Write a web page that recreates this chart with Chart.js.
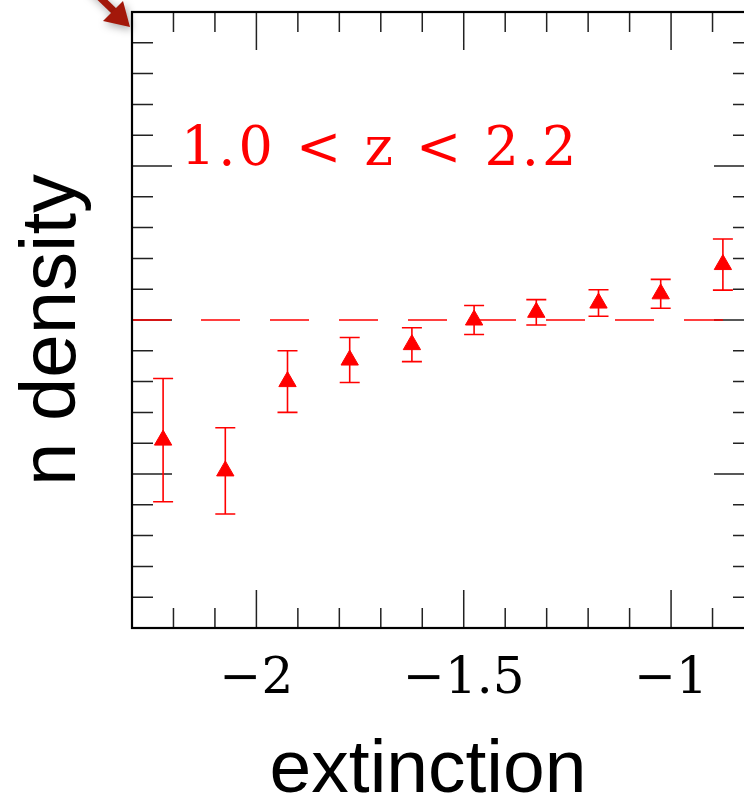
<!DOCTYPE html>
<html>
<head>
<meta charset="utf-8">
<title>n density vs extinction</title>
<script src="https://cdn.jsdelivr.net/npm/chart.js@4.4.1/dist/chart.umd.min.js"></script>
<style>
  html, body { margin: 0; padding: 0; background: #fff; }
  #wrap { width: 744px; height: 795px; overflow: hidden; position: relative; }
  #myChart { position: absolute; left: 0; top: 0; }
</style>
</head>
<body>
<div id="wrap">
  <canvas id="myChart" width="800" height="795"></canvas>
</div>
<script>
const extinction = [-2.225, -2.075, -1.925, -1.775, -1.625, -1.475, -1.325, -1.175, -1.025, -0.875];
const density = [0.61, 0.51, 0.80, 0.87, 0.92, 1.00, 1.025, 1.055, 1.085, 1.18];
const densityErr = [0.20, 0.14, 0.10, 0.073, 0.055, 0.047, 0.041, 0.043, 0.047, 0.083];

// axes
const xRange = [-2.3, -0.8];
const yRange = [0, 2];
const xLabelTicks = [-2, -1.5, -1];
const refLevel = 1;
const rangeText = '1.0 < z < 2.2';

const RED = '#ff0000';

// inward ticks and error bars, under the data
const underlay = {
    id: 'underlay',
    beforeDatasetsDraw(chart) {
        const { ctx, chartArea: a, scales: { x, y } } = chart;
        ctx.save();

        ctx.strokeStyle = '#222';
        ctx.lineWidth = 1.5;
        ctx.beginPath();
        for (let k = 1; k < 15; k++) {
            const v = xRange[0] + k * 0.1;
            const px = x.getPixelForValue(v);
            const major = xLabelTicks.some(t => Math.abs(t - v) < 1e-6);
            const len = major ? 38 : 20;
            ctx.moveTo(px, a.bottom); ctx.lineTo(px, a.bottom - len);
            ctx.moveTo(px, a.top); ctx.lineTo(px, a.top + len);
        }
        for (let k = 1; k < 20; k++) {
            const v = yRange[0] + k * 0.1;
            const py = y.getPixelForValue(v);
            const len = (k % 5 === 0) ? 40 : 21;
            ctx.moveTo(a.left, py); ctx.lineTo(a.left + len, py);
            ctx.moveTo(a.right, py); ctx.lineTo(a.right - len, py);
        }
        ctx.stroke();

        ctx.strokeStyle = RED;
        ctx.lineWidth = 1.6;
        ctx.beginPath();
        extinction.forEach((xv, i) => {
            const px = x.getPixelForValue(xv);
            const top = y.getPixelForValue(density[i] + densityErr[i]);
            const bot = y.getPixelForValue(density[i] - densityErr[i]);
            ctx.moveTo(px, top); ctx.lineTo(px, bot);
            ctx.moveTo(px - 10, top); ctx.lineTo(px + 10, top);
            ctx.moveTo(px - 10, bot); ctx.lineTo(px + 10, bot);
        });
        ctx.stroke();
        ctx.restore();
    }
};

// box, texts and the slide arrow
const overlay = {
    id: 'overlay',
    afterDraw(chart) {
        const { ctx, chartArea: a } = chart;
        ctx.save();
        ctx.strokeStyle = '#000';
        ctx.lineWidth = 2.2;
        ctx.strokeRect(a.left, a.top, a.right - a.left, a.bottom - a.top);

        // redshift range label
        ctx.fillStyle = RED;
        ctx.font = '54px "DejaVu Serif"';
        ctx.letterSpacing = '3px';
        ctx.textAlign = 'left';
        ctx.textBaseline = 'alphabetic';
        ctx.fillText(rangeText, 181, 165);
        ctx.letterSpacing = '0px';

        // axis titles
        ctx.fillStyle = '#000';
        ctx.textAlign = 'center';
        ctx.font = '75px "Liberation Sans"';
        ctx.fillText('extinction', 428, 792);
        ctx.font = '78px "Liberation Sans"';
        ctx.translate(75, 330);
        ctx.rotate(-Math.PI / 2);
        ctx.fillText('n density', 0, 0);
        ctx.restore();

        // slide arrow pointing at the corner
        ctx.save();
        ctx.fillStyle = '#a3180a';
        ctx.strokeStyle = '#a3180a';
        ctx.shadowColor = 'rgba(0,0,0,0.35)';
        ctx.shadowBlur = 8;
        ctx.shadowOffsetX = 2;
        ctx.shadowOffsetY = 3;
        ctx.lineWidth = 7;
        ctx.beginPath();
        ctx.moveTo(88, -14); ctx.lineTo(114, 11);
        ctx.stroke();
        ctx.beginPath();
        ctx.moveTo(130, 27);
        ctx.lineTo(103, 21);
        ctx.lineTo(123, 1);
        ctx.closePath();
        ctx.fill();
        ctx.restore();
    }
};

const ctx = document.getElementById('myChart').getContext('2d');
new Chart(ctx, {
    type: 'scatter',
    data: {
        datasets: [
            {
                label: rangeText,
                data: extinction.map((xv, i) => ({ x: xv, y: density[i] })),
                pointStyle: 'triangle',
                pointRadius: 10,
                pointHoverRadius: 10,
                backgroundColor: RED,
                borderColor: RED,
                borderWidth: 1,
                order: 1
            },
            {
                type: 'line',
                label: 'reference',
                data: [{ x: xRange[0], y: refLevel }, { x: xRange[1], y: refLevel }],
                borderColor: RED,
                borderWidth: 1.6,
                borderDash: [39, 30],
                pointRadius: 0,
                fill: false,
                order: 2
            }
        ]
    },
    options: {
        responsive: false,
        animation: false,
        layout: { padding: { left: 0, top: 12, right: 46, bottom: 0 } },
        plugins: {
            legend: { display: false },
            tooltip: { enabled: false }
        },
        scales: {
            x: {
                type: 'linear',
                min: xRange[0],
                max: xRange[1],
                grid: { display: false, drawTicks: false },
                border: { display: false },
                afterBuildTicks: scale => {
                    scale.ticks = xLabelTicks.map(v => ({ value: v }));
                },
                afterFit: scale => { scale.height = 167; },
                ticks: {
                    padding: 22,
                    color: '#000',
                    maxRotation: 0,
                    autoSkip: false,
                    font: { family: 'DejaVu Serif', size: 50 },
                    callback: v => (v < 0 ? '\u2212' : '') + Math.abs(v)
                }
            },
            y: {
                type: 'linear',
                min: yRange[0],
                max: yRange[1],
                grid: { display: false, drawTicks: false },
                border: { display: false },
                afterFit: scale => { scale.width = 132; },
                ticks: { display: false }
            }
        }
    },
    plugins: [underlay, overlay]
});
</script>
</body>
</html>
